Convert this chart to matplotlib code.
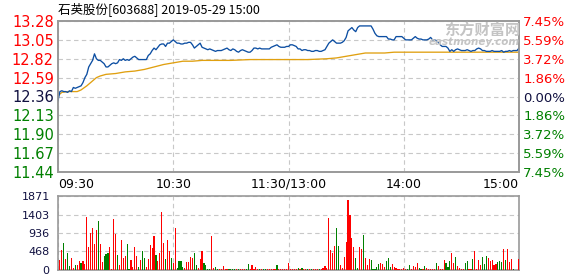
import matplotlib
matplotlib.use('Agg')
import matplotlib.pyplot as plt
import numpy as np

# data
title = '石英股份[603688] 2019-05-29 15:00'
pre_close = 12.36
price_ticks = [11.44, 11.67, 11.90, 12.13, 12.36, 12.59, 12.82, 13.05, 13.28]
pct_labels = ['7.45%', '5.59%', '3.72%', '1.86%', '0.00%', '1.86%', '3.72%', '5.59%', '7.45%']
vol_ticks = [0, 468, 936, 1403, 1871]
time_ticks = [0, 60, 120, 180, 240]
time_labels = ['09:30', '10:30', '11:30/13:00', '14:00', '15:00']

# last price, one value per minute (09:30 .. 15:00)
price = [
    12.31, 12.42, 12.43, 12.42, 12.42, 12.41, 12.43, 12.42, 12.47, 12.46,
    12.47, 12.48, 12.49, 12.53, 12.59, 12.63, 12.72, 12.76, 12.80, 12.88,
    12.82, 12.80, 12.80, 12.78, 12.76, 12.72, 12.72, 12.74, 12.76, 12.77,
    12.76, 12.77, 12.81, 12.80, 12.82, 12.80, 12.81, 12.80, 12.82, 12.84,
    12.85, 12.83, 12.81, 12.81, 12.81, 12.81, 12.81, 12.86, 12.88, 12.92,
    12.95, 12.93, 12.96, 12.99, 13.00, 13.00, 12.97, 13.01, 13.01, 13.03,
    13.05, 13.03, 13.01, 13.01, 13.00, 13.00, 13.01, 13.01, 13.02, 13.02,
    12.99, 12.95, 12.97, 12.99, 13.01, 12.96, 12.95, 12.94, 12.93,
    12.94, 12.93, 12.92, 12.91, 12.92, 12.92, 12.92, 12.93, 12.94, 12.95,
    12.93, 12.92, 12.94, 12.93, 12.91, 12.90, 12.92, 12.93, 12.92, 12.91,
    12.90, 12.90, 12.92, 12.95, 12.95, 12.94, 12.95, 12.94, 12.94, 12.94,
    12.94, 12.94, 12.96, 12.97, 12.98, 12.99, 12.97, 12.96, 12.96, 12.96,
    12.97, 12.97, 12.99, 12.99, 12.98, 12.97, 12.94, 12.94, 12.92, 12.93,
    12.93, 12.92, 12.92, 12.91, 12.91, 12.92, 12.92, 12.91, 12.91, 12.92,
    12.93, 12.97, 13.01, 13.03, 13.05, 13.03, 13.01, 13.01, 13.01, 13.02,
    13.04, 13.08, 13.16, 13.18, 13.20, 13.17, 13.15, 13.20, 13.22, 13.22,
    13.22, 13.22,
    13.22, 13.22, 13.22, 13.18, 13.13, 13.10, 13.09, 13.09, 13.09, 13.09,
    13.09, 13.06, 13.06, 13.05, 13.05, 13.09, 13.09, 13.09, 13.09, 13.07,
    13.05, 13.05, 13.05, 13.05, 13.07, 13.09, 13.07, 13.06, 13.06, 13.05,
    13.05, 13.05, 13.06, 13.08, 13.05, 13.05, 13.04, 13.02, 12.99, 12.97,
    12.97, 12.97, 12.95, 12.91, 12.93, 12.91, 12.93, 12.94, 12.93, 12.92,
    12.92, 12.92, 12.93, 12.92, 12.91, 12.92, 12.92, 12.94, 12.95, 12.94,
    12.92, 12.92, 12.91, 12.91, 12.91, 12.92, 12.91, 12.91, 12.91, 12.91,
    12.92, 12.90, 12.91, 12.91, 12.92, 12.91, 12.92, 12.92, 12.92, 12.95,
]

# average price line
avg_minutes = [0, 2, 5, 10, 12, 15, 20, 22, 25, 30, 35, 40, 45, 50, 55, 60, 65,
               70, 75, 80, 90, 100, 110, 120, 130, 140, 145, 150, 155, 160,
               170, 175, 180, 200, 220, 240]
avg_price = [12.37, 12.41, 12.42, 12.42, 12.44, 12.49, 12.59, 12.61, 12.63,
             12.64, 12.66, 12.67, 12.69, 12.72, 12.75, 12.77, 12.79, 12.79,
             12.80, 12.80, 12.80, 12.81, 12.81, 12.81, 12.81, 12.82, 12.83,
             12.85, 12.87, 12.89, 12.89, 12.90, 12.90, 12.90, 12.90, 12.90]

# volume per minute (09:31 .. 15:00), 1 = up (red), 0 = down (green)
volume = [
    250, 494, 676, 286, 442, 104, 312, 52, 130, 130,
    234, 182, 234, 156, 1352, 572, 936, 1066, 650, 1014,
    1248, 650, 208, 364, 416, 442, 572, 26, 1300, 910,
    390, 130, 754, 312, 364, 650, 26, 260, 78, 572,
    364, 78, 260, 468, 312, 78, 286, 624, 546, 858,
    390, 234, 442, 1456, 676, 286, 754, 468, 312, 182,
    1066, 52, 234, 234, 78, 52, 208, 208, 338, 312,
    442, 130, 52, 286, 468, 182, 130, 26, 26, 858,
    52, 78, 26, 26, 26, 104, 26, 26, 26, 26,
    26, 26, 26, 26, 26, 26, 26, 26, 156, 26,
    130, 26, 78, 26, 26, 26, 26, 26, 26, 26,
    26, 26, 26, 130, 26, 26, 26, 26, 26, 182,
    26, 26, 26, 26, 52, 26, 52, 26, 26, 26,
    26, 26, 26, 26, 26, 26, 26, 52, 104, 52,
    1326, 494, 442, 598, 1066, 598, 130, 52, 338, 702,
    1768, 1378, 806, 572, 312, 52, 572, 520, 884, 312,
    130, 286, 260, 26, 26, 78, 156, 182, 156, 78,
    234, 312, 78, 156, 78, 52, 26, 26, 26, 52,
    26, 26, 130, 26, 104, 78, 182, 52, 26, 26,
    104, 52, 26, 26, 26, 26, 182, 104, 26, 26,
    260, 182, 78, 234, 442, 182, 338, 104, 52, 26,
    26, 182, 234, 26, 26, 286, 468, 26, 260, 130,
    338, 156, 364, 312, 234, 260, 130, 156, 208, 234,
    208, 520, 260, 520, 208, 286, 26, 0, 0, 286,
]
vol_up = [
    1, 1, 0, 1, 0, 0, 1, 1, 0, 1,
    1, 0, 1, 1, 1, 1, 1, 1, 1, 1,
    0, 1, 1, 0, 0, 0, 1, 1, 1, 1,
    0, 1, 1, 1, 1, 0, 0, 1, 1, 1,
    1, 0, 1, 0, 0, 1, 1, 1, 1, 1,
    0, 1, 1, 1, 1, 0, 1, 1, 0, 1,
    1, 0, 0, 0, 0, 1, 1, 1, 1, 1,
    0, 0, 1, 1, 1, 0, 0, 0, 0, 1,
    1, 0, 0, 1, 1, 1, 1, 1, 0, 0,
    0, 0, 1, 0, 1, 1, 1, 0, 0, 1,
    1, 1, 1, 1, 0, 1, 0, 0, 1, 1,
    1, 1, 1, 0, 1, 1, 1, 1, 1, 1,
    1, 1, 1, 1, 0, 1, 0, 1, 1, 0,
    1, 0, 1, 1, 1, 0, 1, 1, 1, 1,
    1, 1, 1, 1, 0, 0, 1, 1, 1, 1,
    1, 1, 1, 1, 0, 0, 1, 1, 0, 1,
    1, 1, 0, 0, 0, 0, 0, 1, 1, 1,
    0, 0, 0, 1, 1, 1, 1, 1, 1, 1,
    1, 0, 0, 1, 1, 1, 1, 0, 0, 1,
    0, 1, 1, 1, 1, 1, 0, 1, 1, 1,
    1, 0, 0, 0, 1, 1, 0, 1, 1, 1,
    1, 0, 0, 1, 1, 0, 1, 1, 1, 1,
    0, 0, 0, 1, 1, 1, 1, 1, 0, 0,
    0, 1, 0, 1, 1, 1, 0, 1, 1, 1,
]

RED = '#ff0000'
GREEN = '#008000'
DARK = '#101040'
GRID = '#c8c8c8'
SPINE = '#999999'

plt.rcParams['font.family'] = ['DejaVu Sans']

fig = plt.figure(figsize=(5.78, 2.76), dpi=100)
W, H = 578, 276

def axes_px(left, top, right, bottom):
    return fig.add_axes([left / W, 1 - bottom / H, (right - left) / W, (bottom - top) / H])

ax = axes_px(58, 21, 519, 172)
axv = axes_px(58, 196, 519, 270)

minutes = np.arange(len(price))
ax.plot(minutes, price, color='#0c4ea2', lw=0.95, zorder=3)
ax.plot(avg_minutes, avg_price, color='#e0a010', lw=0.95, zorder=2)

ax.set_xlim(0, 240)
ax.set_ylim(price_ticks[0], price_ticks[-1])
ax.set_yticks(price_ticks)
ax.set_yticklabels(['%.2f' % t for t in price_ticks], fontsize=10.5)
for lab, t in zip(ax.get_yticklabels(), price_ticks):
    lab.set_color(RED if t > pre_close + 1e-6 else (GREEN if t < pre_close - 1e-6 else DARK))
ax.set_xticks(time_ticks)
ax.set_xticklabels(time_labels, fontsize=9)
xl = ax.get_xticklabels()
xl[0].set_ha('left')
xl[-1].set_ha('right')
ax.tick_params(axis='both', length=0)
ax.tick_params(axis='y', pad=3)
ax.tick_params(axis='x', pad=4)

ax2 = ax.twinx()
ax2.set_ylim(price_ticks[0], price_ticks[-1])
ax2.set_yticks(price_ticks)
ax2.set_yticklabels(pct_labels, fontsize=9.5)
for lab, t in zip(ax2.get_yticklabels(), price_ticks):
    lab.set_color(RED if t > pre_close + 1e-6 else (GREEN if t < pre_close - 1e-6 else DARK))
ax2.tick_params(axis='y', length=0, pad=3)

vol_x = np.arange(1, len(volume) + 1)
colors = [RED if u else GREEN for u in vol_up]
axv.bar(vol_x, volume, width=0.6, color=colors, linewidth=0,
        antialiased=False, zorder=3)
axv.set_xlim(0, 240)
axv.set_ylim(0, vol_ticks[-1])
axv.set_yticks(vol_ticks)
axv.set_yticklabels([str(v) for v in vol_ticks], fontsize=8, color=DARK)
axv.set_xticks(time_ticks)
axv.set_xticklabels([])
axv.tick_params(axis='both', length=0)
axv.tick_params(axis='y', pad=6)

for a in (ax, axv, ax2):
    for s in a.spines.values():
        s.set_color(SPINE)
        s.set_linewidth(1.2)
for a in (ax, axv):
    a.grid(True, color=GRID, linestyle=(0, (4, 3)), linewidth=0.8)
    a.set_axisbelow(True)

fig.text(58 / W, 1 - 9 / H, title, fontsize=9, va='center', ha='left',
         family=['Noto Sans CJK SC', 'DejaVu Sans'])
fig.text(520 / W, 1 - 30 / H, '东方财富网', fontsize=11, fontweight='bold',
         color='#c4c4c4', va='center', ha='right', family=['Noto Sans CJK SC'])
fig.text(520 / W, 1 - 42 / H, 'eastmoney.com', fontsize=7.5, fontweight='bold',
         fontstyle='italic', color='#c4c4c4', va='center', ha='right')

fig.savefig('out.png', dpi=100)
